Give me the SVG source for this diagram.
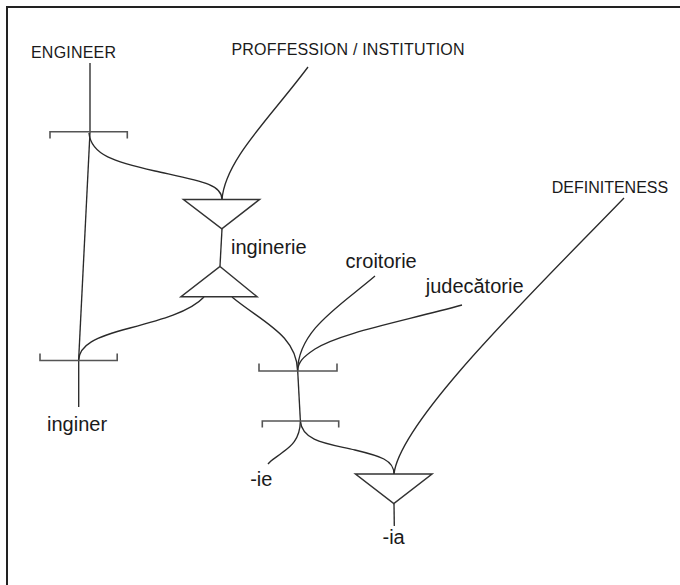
<svg xmlns="http://www.w3.org/2000/svg" width="680" height="585" viewBox="0 0 680 585">
  <style>
    .cap { font-family: "Liberation Sans", Arial, sans-serif; font-size: 16px; fill: #1a1a1a; }
    .lbl { font-family: "Liberation Sans", Arial, sans-serif; font-size: 20px; fill: #1a1a1a; }
    .br { fill: none; stroke: #555; stroke-width: 1.6; }
    .tri { fill: #fff; stroke: #333; stroke-width: 1.5; stroke-linejoin: miter; }
    .ln { fill: none; stroke: #2a2a2a; stroke-width: 1.35; }
  </style>
  <rect width="680" height="585" fill="#fff"/>
  <path d="M7,585 V7 H680" fill="none" stroke="#222" stroke-width="2"/>

  <g id="connectors">
    <path class="ln" d="M90,63 L90,132"/>
    <path class="ln" d="M90,132 L78.6,360.5"/>
    <path class="ln" d="M78.7,360.5 L78.7,407"/>
    <path class="ln" d="M89,133 C91,155 115,162 155,171 C200,181 222,184 222,199.5"/>
    <path class="ln" d="M308,67 C270,118 225,160 222,199.5"/>
    <path class="ln" d="M222,229 L220,266"/>
    <path class="ln" d="M204,297 C190,312 160,320 130,328 C95,337 79,345 78.6,360.5"/>
    <path class="ln" d="M232,297 C262,322 297,335 297.6,371"/>
    <path class="ln" d="M375,276 C340,306 298,330 297.6,371"/>
    <path class="ln" d="M462,305 C400,322 340,333 315,349 C303,357 298,362 297.6,371"/>
    <path class="ln" d="M297.7,371 L300.4,421"/>
    <path class="ln" d="M300.4,421 C300,440 290,447 283,452 C277,457 271,460 268,464"/>
    <path class="ln" d="M300.4,421 C302,442 330,444 355,450 C380,456 394,460 394,474"/>
    <path class="ln" d="M624,198 C540,285 400,420 394,474"/>
    <path class="ln" d="M394,503.5 L394.3,526"/>
  </g>

  <g id="engineer"><text class="cap" x="31" y="58.3" textLength="85">ENGINEER</text></g>
  <g id="profession"><text class="cap" x="231.5" y="55" textLength="233">PROFFESSION / INSTITUTION</text></g>
  <g id="definiteness"><text class="cap" x="551.7" y="192.7">DEFINITENESS</text></g>

  <g id="bracket1"><path class="br" d="M50,138.5 V131.7 H127.3 V138.5"/></g>
  <g id="triangle1"><polygon class="tri" points="183.5,199.5 259.5,199.5 221.8,228.8"/></g>
  <g id="inginerie"><text class="lbl" x="231" y="254">inginerie</text></g>
  <g id="triangle2"><polygon class="tri" points="220,266.5 257,296.7 181,296.7"/></g>
  <g id="bracket2"><path class="br" d="M40,353.5 V360.5 H117.2 V353.5"/></g>
  <g id="inginer"><text class="lbl" x="47" y="431">inginer</text></g>
  <g id="croitorie"><text class="lbl" x="345.6" y="267.5">croitorie</text></g>
  <g id="judecatorie"><text class="lbl" x="425.7" y="292.5">judecătorie</text></g>
  <g id="bracket3"><path class="br" d="M259,363.5 V371 H337 V363.5"/></g>
  <g id="bracket4"><path class="br" d="M262.3,427.5 V421 H338.7 V427.5"/></g>
  <g id="suffix-ie"><text class="lbl" x="250.2" y="486">-ie</text></g>
  <g id="triangle3"><polygon class="tri" points="355.5,474 432,474 393.8,503.5"/></g>
  <g id="suffix-ia"><text class="lbl" x="382.5" y="543.5">-ia</text></g>
</svg>
